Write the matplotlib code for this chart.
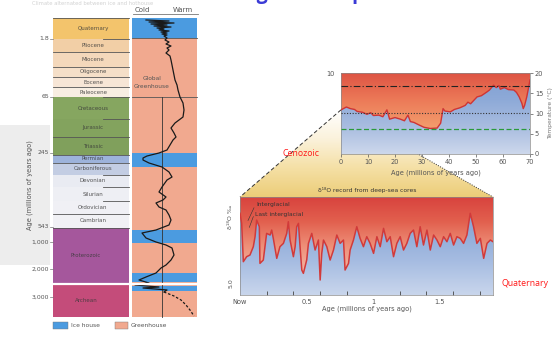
import numpy as np
import matplotlib
matplotlib.use('Agg')
import matplotlib.pyplot as plt
from matplotlib.colors import LinearSegmentedColormap
from matplotlib.patches import Rectangle, Polygon

# ------------------------------------------------------------------ data
period_names = ['Quaternary', 'Pliocene', 'Miocene', 'Oligocene', 'Eocene', 'Paleocene',
                'Cretaceous', 'Jurassic', 'Triassic', 'Permian', 'Carboniferous', 'Devonian',
                'Silurian', 'Ordovician', 'Cambrian', 'Proterozoic', 'Archean']
period_tops = [18, 39, 52, 67, 77, 87, 97, 119, 137, 155, 163, 175, 187, 201, 214, 228, 284]
period_bottoms = [39, 52, 67, 77, 87, 97, 119, 137, 155, 163, 175, 187, 201, 214, 228, 283, 317]
period_colors = ['#f3c46c', '#f2cfa6', '#f4d8bb', '#f5dfc8', '#f7e6d6', '#f8eee2',
                 '#86a660', '#83a35e', '#80a05c', '#9db3db', '#c3cde3', '#e9ebf2',
                 '#eeeff4', '#f0f0f5', '#f1f1f5', '#a5579c', '#c44c7a']
boundary_full = [True, False, True, True, True, True, False, False, True, True, True,
                 False, False, False, True, True, True]
age_tick_labels = ['1.8', '65', '245', '543', '1,000', '2,000', '3,000']
age_tick_pos = [39, 97, 153, 227, 242, 269, 297]
icehouse_tops = [18, 153, 230, 273, 286]
icehouse_bottoms = [38, 167, 243, 282, 291]
# relative global temperature (0 = coldest side of column)
temp_pos = [20, 21, 22, 23, 24, 25, 26, 27, 28, 29, 30, 31, 32, 33, 34, 35, 36, 38, 40, 42,
            44, 46, 48, 50, 53, 56, 60, 65, 70, 75, 80, 85, 90, 97, 103, 110, 117, 120, 123, 128,
            133, 137, 140, 145, 150, 153, 156, 158, 160, 163, 167, 172, 177, 180, 187, 192, 197, 200, 203, 207,
            210, 215, 220, 225, 230, 233, 238, 242, 245, 248, 255, 260, 265, 268, 273, 277, 280, 283, 285, 287,
            288, 290, 292]
temp_val = [14, 37, 17, 42, 19, 35, 22, 39, 25, 32, 27, 37, 29, 35, 30, 35, 32, 35, 33, 37,
            34, 39, 35, 37, 34, 38, 39, 40, 41, 42, 43, 45, 46, 48, 51, 52, 51, 47, 43, 39,
            42, 44, 41, 38, 35, 27, 15, 11, 11, 17, 30, 37, 40, 35, 30, 27, 34, 31, 24, 27,
            34, 37, 39, 37, 24, 10, 14, 24, 34, 40, 42, 39, 34, 29, 24, 14, 7, 17, 3, 27,
            11, 35, 32]
temp_dash_pos = [292, 296, 300, 305, 310, 316]
temp_dash_val = [32, 42, 49, 54, 58, 62]

# Cenozoic temperature (deg C) vs age (Ma)
cenozoic_age = [0, 2, 3.5, 5, 6, 8, 9.6, 11, 12, 14, 15.5, 17, 18, 20, 22, 23.5, 24.8, 25.7, 27, 28.5,
                30.7, 33, 35.6, 36.9, 37.8, 38.5, 40.5, 42, 44, 46, 47, 48, 50.4, 52, 54, 55, 56.5, 57.5,
                58.5, 59, 60.5, 62, 64, 65, 66, 67, 67.5, 68, 68.8, 69.5, 70]
cenozoic_temp = [10.9, 11.6, 11.2, 11.0, 10.5, 10.3, 9.8, 10.2, 9.5, 9.6, 9.2, 10.9, 8.6, 9.0, 8.6, 8.2,
                 9.6, 8.0, 7.8, 7.3, 6.6, 6.3, 6.4, 7.6, 11.2, 10.6, 10.4, 11.0, 11.4, 12.0, 12.8, 12.4,
                 14.1, 14.4, 15.3, 15.8, 17.0, 16.4, 16.9, 16.0, 16.4, 15.9, 15.8, 15.2, 14.1, 12.5, 11.2,
                 12.0, 14.1, 16.5, 18.3]
ceno_ref_levels = [16.8, 10.1, 6.2]

# Quaternary oxygen-isotope temperature index vs age (Ma)
quat_age = [0, 0.0125, 0.025, 0.05, 0.075, 0.1, 0.113, 0.125, 0.145, 0.15, 0.175, 0.2, 0.226, 0.238, 0.25,
            0.276, 0.3, 0.326, 0.351, 0.363, 0.376, 0.401, 0.414, 0.426, 0.439, 0.451, 0.464, 0.476, 0.501,
            0.514, 0.539, 0.564, 0.589, 0.602, 0.614, 0.627, 0.652, 0.677, 0.702, 0.727, 0.752, 0.777, 0.789,
            0.815, 0.827, 0.852, 0.877, 0.902, 0.927, 0.952, 0.977, 1.003, 1.028, 1.053, 1.078, 1.103, 1.128,
            1.153, 1.178, 1.203, 1.228, 1.253, 1.278, 1.303, 1.328, 1.353, 1.378, 1.404, 1.429, 1.454, 1.479,
            1.504, 1.529, 1.554, 1.579, 1.604, 1.629, 1.654, 1.679, 1.704, 1.729, 1.754, 1.779, 1.805, 1.830,
            1.855, 1.88, 1.90]
quat_val = [8.34, 7.31, 3.40, 3.91, 4.08, 4.93, 5.95, 7.65, 6.97, 3.23, 3.57, 6.29, 6.12, 6.63, 5.78,
            3.74, 4.93, 5.27, 6.29, 7.48, 5.61, 3.91, 4.93, 6.97, 7.31, 4.93, 2.55, 2.21, 3.57,
            5.27, 6.29, 4.59, 5.61, 1.53, 4.25, 5.61, 4.93, 3.57, 4.59, 6.12, 5.27, 5.61, 2.55,
            3.23, 4.59, 5.61, 6.97, 5.78, 4.93, 5.95, 5.27, 4.25, 5.95, 4.93, 6.80, 5.44, 5.95,
            3.91, 5.27, 5.95, 4.59, 5.27, 6.29, 6.63, 4.93, 6.97, 5.10, 6.63, 4.59, 6.12, 5.61,
            4.93, 5.95, 5.44, 6.29, 5.10, 5.95, 5.78, 5.27, 6.12, 8.34, 6.97, 5.27, 5.78, 3.74,
            5.27, 5.61, 5.44]

# ------------------------------------------------------------------ figure
W, H = 557, 338
fig = plt.figure(figsize=(W / 100, H / 100), dpi=100)
fig.patch.set_facecolor('white')


def px_axes(x0, y0, x1, y1, z=1):
    return fig.add_axes([x0 / W, 1 - y1 / H, (x1 - x0) / W, (y1 - y0) / H], zorder=z)


def vgrad(ax, extent, colors, zorder=0, alpha=1.0):
    cmap = LinearSegmentedColormap.from_list('g', colors)
    grad = np.linspace(0, 1, 256).reshape(-1, 1)
    return ax.imshow(grad, extent=extent, cmap=cmap, aspect='auto', zorder=zorder,
                     interpolation='bicubic', alpha=alpha)


axO = fig.add_axes([0, 0, 1, 1], zorder=0)
axO.set_xlim(0, W)
axO.set_ylim(H, 0)
axO.axis('off')

# faint scan background at far left
axO.add_patch(Rectangle((0, 125), 50, 140, facecolor='#e6e6e6', edgecolor='none', alpha=0.7))
axO.text(32, 3.5, "Climate alternated between ice and hothouse",
         fontsize=3.8, color='#d2d2d2', va='center')

# ---- left geologic column
LX0, LX1 = 53, 129
TX0, TX1 = 132, 197
for name, t, b, c in zip(period_names, period_tops, period_bottoms, period_colors):
    axO.add_patch(Rectangle((LX0, t), LX1 - LX0, b - t, facecolor=c, edgecolor='none'))
    cx = 93 if name not in ('Proterozoic', 'Archean') else 86
    axO.text(cx, (t + b) / 2, name, fontsize=4.0, color='#3a3a3a', ha='center', va='center', alpha=0.85)
for t, full in zip(period_tops, boundary_full):
    x0 = LX0 if full else 103
    axO.plot([x0, LX1], [t, t], color='#555555', lw=0.6)
axO.plot([LX0, TX1], [283.5, 283.5], color='white', lw=1.6, zorder=5)

# temperature column
axO.add_patch(Rectangle((TX0, 18), TX1 - TX0, 299, facecolor='#f1a98f', edgecolor='none'))
for t, b in zip(icehouse_tops, icehouse_bottoms):
    axO.add_patch(Rectangle((TX0, t), TX1 - TX0, b - t, facecolor='#4b9be0', edgecolor='none'))
axO.plot([TX0, TX1], [38, 38], color='#555555', lw=0.6)
axO.plot([TX0, TX1], [97, 97], color='#555555', lw=0.6)
axO.plot([162, 162], [97, 317], color='#333333', lw=0.6)
axO.plot([TX0 + v for v in temp_val], temp_pos, color='#1a1a1a', lw=0.9, zorder=4)
axO.plot([TX0 + v for v in temp_dash_val], temp_dash_pos, color='#1a1a1a', lw=0.9,
         ls=(0, (2, 1.5)), zorder=4)
axO.text(152, 78, 'Global', fontsize=4.2, color='#555555', ha='center', va='center')
axO.text(152, 86, 'Greenhouse', fontsize=4.2, color='#555555', ha='center', va='center')

# header
axO.text(142, 9.5, 'Cold', fontsize=5, color='#555555', ha='center', va='center')
axO.text(183, 9.5, 'Warm', fontsize=5, color='#555555', ha='center', va='center')
axO.plot([133, 198], [14, 14], color='#777777', lw=0.6)

# age ticks
for lab, p in zip(age_tick_labels, age_tick_pos):
    axO.text(49, p, lab, fontsize=4.4, color='#555555', ha='right', va='center')
    axO.plot([50, 53], [p, p], color='#777777', lw=0.5)
axO.text(30, 185, 'Age (millions of years ago)', fontsize=4.8, color='#555555',
         rotation=90, ha='center', va='center')

# legend
axO.add_patch(Rectangle((53, 322), 15, 7, facecolor='#4b9be0', edgecolor='#777777', lw=0.3))
axO.text(71, 325.5, 'Ice house', fontsize=4.3, color='#555555', va='center')
axO.add_patch(Rectangle((115, 322), 13, 7, facecolor='#f1a98f', edgecolor='#777777', lw=0.3))
axO.text(131, 325.5, 'Greenhouse', fontsize=4.3, color='#555555', va='center')

# title (mostly cut at the top edge, as in the reference)
axO.text(240, -0.8, 'Figure: Temperature variations', fontsize=14, fontweight='bold',
         color='#3b3bd6', va='baseline', ha='left', family='Open Sans')

# ---- top-right Cenozoic chart
axT = px_axes(341, 73, 530, 154, z=3)
vgrad(axT, (0, 70, 0, 20), ['#de5444', '#ec7a58', '#f39c6c', '#f6b888'])
under = Polygon(list(zip(cenozoic_age, cenozoic_temp)) + [(70, 0), (0, 0)], closed=True,
                facecolor='none', edgecolor='none')
axT.add_patch(under)
imb = vgrad(axT, (0, 70, 0, 20), ['#7f9fd2', '#8eaad8', '#a9bde0', '#cdd8ec'], zorder=1)
imb.set_clip_path(under)
axT.plot(cenozoic_age, cenozoic_temp, color='#cf3434', lw=1.0, zorder=3)
axT.axhline(ceno_ref_levels[0], color='#222222', lw=0.8, ls=(0, (6, 2, 1, 2)), zorder=4)
axT.axhline(ceno_ref_levels[1], color='#333333', lw=0.8, ls=(0, (1, 1.5)), zorder=4)
axT.axhline(ceno_ref_levels[2], color='#2a9a3a', lw=0.9, ls=(0, (4, 2)), zorder=4)
axT.set_xlim(0, 70)
axT.set_ylim(0, 20)
axT.set_xticks([0, 10, 20, 30, 40, 50, 60, 70])
axT.set_xticklabels(['0', '10', '20', '30', '40', '50', '60', '70'])
axT.yaxis.tick_right()
axT.set_yticks([0, 5, 10, 15, 20])
axT.set_yticklabels(['0', '5', '10', '15', '20'])
axT.tick_params(labelsize=4.8, colors='#555555', length=2, width=0.5, pad=1.5)
for s in axT.spines.values():
    s.set_color('#8a8a8a')
    s.set_linewidth(0.5)
axO.text(335, 74, '10', fontsize=4.8, color='#555555', ha='right', va='center')
axO.text(436, 173, 'Age (millions of years ago)', fontsize=4.8, color='#555555', ha='center', va='center')
axO.text(551, 113, 'Temperature (\u00b0C)', fontsize=4.3, color='#777777', rotation=90,
         ha='center', va='center')

# ---- bottom Quaternary chart
axB = px_axes(240, 197, 493, 295, z=3)
vgrad(axB, (0, 1.9, 0, 10), ['#d8433e', '#e2604e', '#ee8f78', '#f4b4a2', '#f6c6b8'])
underB = Polygon(list(zip(quat_age, quat_val)) + [(1.9, 0), (0, 0)], closed=True,
                 facecolor='none', edgecolor='none')
axB.add_patch(underB)
imq = vgrad(axB, (0, 1.9, 0, 10), ['#7fa0d4', '#8eaad8', '#a7bde2', '#c9d6ec'], zorder=1)
imq.set_clip_path(underB)
axB.plot(quat_age, quat_val, color='#d13a3a', lw=1.1, zorder=3)
axB.set_xlim(0, 1.9)
axB.set_ylim(0, 10)
axB.set_xticks([0, 0.5, 1.0, 1.5])
axB.set_xticklabels(['Now', '0.5', '1', '1.5'])
axB.set_xticks(np.arange(0.2, 1.9, 0.2), minor=True)
axB.tick_params(axis='x', which='major', length=0, labelsize=4.8, colors='#555555', pad=3)
axB.tick_params(axis='x', which='minor', direction='in', length=3, width=0.6, colors='#444444')
axB.set_yticks([])
for s in axB.spines.values():
    s.set_color('#8a8a8a')
    s.set_linewidth(0.5)
axB.text(0.12, 9.2, 'Interglacial', fontsize=4.3, color='#333333', va='center')
axB.text(0.11, 8.2, 'Last interglacial', fontsize=4.3, color='#333333', va='center')
axB.plot([0.105, 0.06], [8.9, 7.6], color='#333333', lw=0.4)
axB.plot([0.10, 0.07], [8.0, 6.9], color='#333333', lw=0.4)
axO.text(367, 309, 'Age (millions of years ago)', fontsize=4.8, color='#555555', ha='center', va='center')
axO.text(231, 217, '\u03b4\u00b9\u2078O \u2030', fontsize=4.5, color='#555555', rotation=90,
         ha='center', va='center')
axO.text(231, 283, '5.0', fontsize=4.5, color='#555555', rotation=90, ha='center', va='center')

# ---- zoom connection (Cenozoic -> Quaternary)
fig.canvas.draw()
apex = axO.transData.inverted().transform(axT.transData.transform((cenozoic_age[0], cenozoic_temp[0])))
bl = axO.transData.inverted().transform(axB.transAxes.transform((0, 1)))
br = axO.transData.inverted().transform(axB.transAxes.transform((1, 1)))
tri = Polygon([apex, bl, br], closed=True, facecolor='none', edgecolor='none')
axO.add_patch(tri)
imy = vgrad(axO, (bl[0], br[0], bl[1], apex[1]),
            ['#ffffff', '#fbf2dc', '#f5e0a6', '#eccd78'], zorder=1)
imy.set_clip_path(tri)
axO.plot([apex[0], bl[0]], [apex[1], bl[1]], color='#333333', lw=0.7, ls=(0, (4, 2.5)), zorder=2)
axO.plot([apex[0], br[0]], [apex[1], br[1]], color='#333333', lw=0.7, ls=(0, (1, 1.5)), zorder=2)
axO.text(367, 190, '\u03b4\u00b9\u2078O record from deep-sea cores', fontsize=4.3, color='#333333',
         ha='center', va='center', zorder=3)
axO.set_xlim(0, W)
axO.set_ylim(H, 0)

# red labels
axO.text(301, 153, 'Cenozoic', fontsize=6.3, color='#ff1a1a', ha='center', va='center',
         family='Open Sans', zorder=6)
axO.text(525, 284, 'Quaternary', fontsize=6.3, color='#ff1a1a', ha='center', va='center',
         family='Open Sans', zorder=6)

fig.savefig('out.png', dpi=100, facecolor='white')
